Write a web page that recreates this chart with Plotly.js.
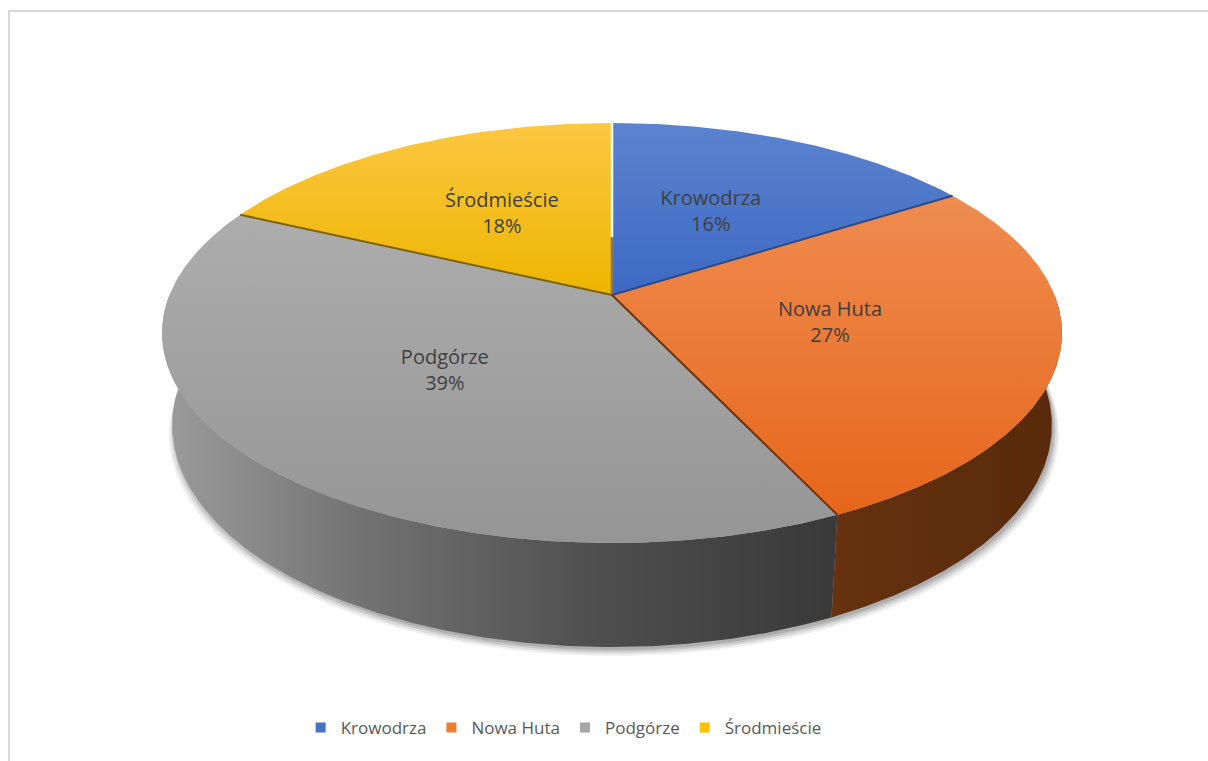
<!DOCTYPE html>
<html>
<head>
<meta charset="utf-8">
<script src="https://cdn.plot.ly/plotly-3.0.1.min.js"></script>
<style>html,body{margin:0;padding:0;background:#fff;}#chart{width:1208px;height:761px;}</style>
</head>
<body>
<div id="chart"></div>
<script>
// ---- data ----
const categories = ['Krowodrza', 'Nowa Huta', 'Podgórze', 'Środmieście'];
const values = [16, 27, 39, 18];

// ---- styles ----
const topColors = [
  ['#5C83CE', '#3C69C3'],
  ['#EF8C50', '#E6661B'],
  ['#ADADAD', '#959595'],
  ['#FCC742', '#EDB500']
];
const sideScales = [
  [[0, '#2E4F8E'], [1, '#2A4680']],
  [[0, '#66320F'], [1, '#582A0B']],
  [[0, '#9C9C9C'], [0.3, '#727272'], [0.65, '#4E4E4E'], [1, '#393939']],
  [[0, '#A67C00'], [1, '#8F6A00']]
];
const wallLineColors = ['#2B4A86', '#6E3410', '#6E6E6E', '#7D6200'];
const legendColors = ['#4472C4', '#ED7D31', '#A5A5A5', '#FFC000'];

// ---- projection of a tilted 3D disc (perspective) ----
const CX = 612, CY = 295, F = 2171, D = 4.906, SA = 0.459, CA = 0.888, H = 0.2366;
function proj(r, deg, z) {
  const t = deg * Math.PI / 180;
  const X = r * Math.sin(t), Y = r * Math.cos(t);
  const depth = D + Y * CA - z * SA;
  const up = Y * SA + z * CA;
  return [CX + F * X / depth, CY - F * up / depth];
}
function arc(r, a0, a1, z) {
  const pts = [];
  const n = Math.max(2, Math.ceil(Math.abs(a1 - a0) / 0.5));
  for (let i = 0; i <= n; i++) pts.push(proj(r, a0 + (a1 - a0) * i / n, z));
  return pts;
}

const total = values.reduce((a, b) => a + b, 0);
const starts = [], ends = [];
let acc = 0;
values.forEach(v => { starts.push(acc / total * 360); acc += v; ends.push(acc / total * 360); });

const traces = [];

// soft shadow under the disc
[[1.012, 9, 0.06], [1.008, 7, 0.08], [1.004, 5, 0.10], [1.0, 3, 0.12]].forEach(([s, dy, op]) => {
  const pts = arc(1, 0, 360, -H).map(p => [CX + (p[0] - CX) * s + 2, p[1] + dy]);
  traces.push({
    x: pts.map(p => p[0]), y: pts.map(p => p[1]), mode: 'lines', fill: 'toself',
    fillcolor: 'rgba(0,0,0,' + op + ')', line: {width: 0}, hoverinfo: 'skip', showlegend: false
  });
});

// outer walls (front visible part)
values.forEach((v, i) => {
  const a0 = Math.max(starts[i], 90), a1 = Math.min(ends[i], 270);
  if (a1 <= a0) return;
  const topArc = arc(1, a0, a1, 0);
  const botArc = arc(1, a0, a1, -H).reverse();
  const pts = topArc.concat(botArc);
  const xs = pts.map(p => p[0]);
  traces.push({
    x: xs, y: pts.map(p => p[1]), mode: 'lines', fill: 'toself',
    fillcolor: sideScales[i][0][1],
    fillgradient: {type: 'horizontal', colorscale: sideScales[i],
      start: Math.min(...xs), stop: Math.max(...xs)},
    line: {width: 0}, hoverinfo: 'skip', showlegend: false
  });
});

// top faces
values.forEach((v, i) => {
  const pts = [proj(0, 0, 0)].concat(arc(1, starts[i], ends[i], 0));
  pts.push(proj(0, 0, 0));
  const ys = pts.map(p => p[1]);
  traces.push({
    x: pts.map(p => p[0]), y: ys, mode: 'lines', fill: 'toself',
    fillcolor: topColors[i][0],
    fillgradient: {type: 'vertical', colorscale: [[0, topColors[i][0]], [1, topColors[i][1]]],
      start: Math.min(...ys), stop: Math.max(...ys)},
    line: {width: 0}, hoverinfo: 'skip', showlegend: false
  });
});

// boundary lines (visible radial walls)
starts.forEach((s, i) => {
  if (s === 0) {
    const outer = [proj(1, 0, 0), proj(0.3, 0, 0)];
    traces.push({x: outer.map(p => p[0]), y: outer.map(p => p[1]), mode: 'lines',
      line: {color: '#FFFFFF', width: 2.5}, hoverinfo: 'skip', showlegend: false});
    const inner = [proj(0.3, 0, 0), proj(0, 0, 0)];
    traces.push({x: inner.map(p => p[0]), y: inner.map(p => p[1]), mode: 'lines',
      line: {color: '#7A7A7A', width: 2.5}, hoverinfo: 'skip', showlegend: false});
    return;
  }
  const owner = s < 180 ? i - 1 : i;
  const pts = [proj(0, 0, 0), proj(1, s, 0)];
  traces.push({x: pts.map(p => p[0]), y: pts.map(p => p[1]), mode: 'lines',
    line: {color: wallLineColors[owner], width: 2}, hoverinfo: 'skip', showlegend: false});
});

// data labels
const lx = [], ly = [], lt = [];
values.forEach((v, i) => {
  const p = proj(0.5, (starts[i] + ends[i]) / 2, 0);
  lx.push(p[0]); ly.push(p[1]);
  lt.push(categories[i] + '<br>' + Math.round(v / total * 100) + '%');
});
traces.push({x: lx, y: ly, text: lt, mode: 'text', textposition: 'middle center',
  textfont: {family: 'Open Sans, sans-serif', size: 20, color: '#404040'},
  hoverinfo: 'skip', showlegend: false});

// legend entries
categories.forEach((c, i) => {
  traces.push({x: [null], y: [null], name: c, mode: 'markers', type: 'scatter',
    marker: {symbol: 'square', size: 10, color: legendColors[i]}, showlegend: true});
});

const layout = {
  width: 1208, height: 761,
  margin: {l: 0, r: 0, t: 0, b: 0},
  paper_bgcolor: '#FFFFFF', plot_bgcolor: '#FFFFFF',
  xaxis: {range: [0, 1208], visible: false, fixedrange: true},
  yaxis: {range: [761, 0], visible: false, fixedrange: true},
  showlegend: true,
  legend: {orientation: 'h', x: 0.4666, xanchor: 'center', y: 1 - 728 / 761, yanchor: 'middle',
    font: {family: 'Open Sans, sans-serif', size: 17, color: '#595959'},
    itemwidth: 30, bgcolor: 'rgba(0,0,0,0)'},
  shapes: [
    {type: 'line', xref: 'x', yref: 'y', x0: 9, x1: 9, y0: 11, y1: 761, line: {color: '#D9D9D9', width: 2}},
    {type: 'line', xref: 'x', yref: 'y', x0: 8, x1: 1208, y0: 11, y1: 11, line: {color: '#D9D9D9', width: 2}}
  ]
};

Plotly.newPlot('chart', traces, layout, {displayModeBar: false, staticPlot: true});
</script>
</body>
</html>
